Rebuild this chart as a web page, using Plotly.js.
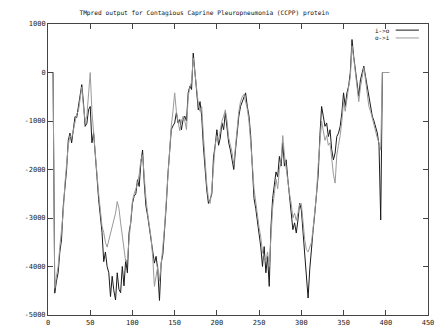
<!DOCTYPE html>
<html><head><meta charset="utf-8">
<script src="https://cdn.plot.ly/plotly-3.0.1.min.js"></script>
<style>html,body{margin:0;padding:0;background:#fff}#chart{width:442px;height:333px}</style>
</head><body><div id="chart"></div>
<script>
// residue positions
const positions = [
  0,6,7,8,10,12,14,16,18,20,
  22,24,26,28,30,32,34,36,38,40,
  42,44,46,48,50,52,54,56,58,60,
  62,64,66,68,70,72,74,76,78,80,
  82,84,86,88,90,92,94,96,98,100,
  102,104,106,108,110,112,114,116,118,120,
  122,124,126,128,130,132,134,136,138,140,
  142,144,146,148,150,152,154,156,158,160,
  162,164,166,168,170,172,174,176,178,180,
  182,184,186,188,190,192,194,196,198,200,
  202,204,206,208,210,212,214,216,218,220,
  222,224,226,228,230,232,234,236,238,240,
  242,244,246,248,250,252,254,256,258,260,
  262,264,266,268,270,272,274,276,278,280,
  282,284,286,288,290,292,294,296,298,300,
  302,304,306,308,310,312,314,316,318,320,
  322,324,326,328,330,332,334,336,338,340,
  342,344,346,348,350,352,354,356,358,360,
  362,364,366,368,370,372,374,376,378,380,
  382,384,386,388,390,392,394,396,404
];
// i->o score
const scoreIO = [
  0,0,-2300,-4550,-4300,-4130,-3700,-3450,-2770,-2450,
  -2000,-1400,-1250,-1450,-1110,-910,-930,-700,-420,-250,
  -630,-1110,-1050,-770,-700,-1450,-1240,-1800,-2150,-2620,
  -2970,-3300,-3900,-3700,-4000,-4130,-4620,-4200,-4500,-4690,
  -4130,-4470,-4540,-4000,-4400,-3860,-4130,-3300,-3100,-2700,
  -2550,-2500,-2210,-2350,-1860,-1600,-2280,-2760,-2950,-3200,
  -3450,-3700,-3930,-3790,-4070,-4700,-3930,-3750,-3300,-2750,
  -2100,-1600,-1180,-1100,-1040,-830,-1040,-970,-1180,-970,
  -900,-1000,-420,-280,-350,400,0,-400,-770,-600,
  -900,-1520,-2000,-2420,-2700,-2620,-2500,-1750,-1500,-1180,
  -1500,-1350,-1040,-1180,-830,-1110,-1450,-1600,-1800,-2000,
  -1600,-1150,-900,-700,-600,-490,-420,-700,-900,-1300,
  -2000,-2600,-2800,-3050,-3300,-3600,-4000,-3590,-4130,-3790,
  -4410,-3200,-2600,-2350,-2050,-2150,-1730,-1930,-1450,-1930,
  -1800,-2200,-2550,-2850,-3240,-3100,-3310,-3040,-2700,-2830,
  -3300,-3800,-4150,-4650,-4050,-3590,-3240,-2900,-2450,-2100,
  -1300,-700,-900,-1110,-1040,-1320,-1180,-1590,-1800,-1660,
  -1320,-1250,-1110,-830,-420,-700,-420,-280,0,680,
  330,60,-210,-490,-150,-10,130,-80,-300,-500,
  -700,-900,-1000,-1110,-1250,-1500,-3040,0,0
];
// o->i score
const scoreOI = [
  0,0,-2300,-4450,-4200,-4000,-3600,-3300,-2900,-2300,
  -1900,-1500,-1300,-1350,-1200,-1000,-850,-800,-500,-300,
  -700,-1000,-900,-500,0,-800,-1300,-1700,-2100,-2500,
  -2800,-3170,-3300,-3500,-3600,-3450,-3300,-3200,-3050,-2900,
  -2660,-2800,-3100,-3400,-3700,-3900,-3860,-3400,-3000,-2650,
  -2500,-2400,-2300,-2100,-1800,-1700,-2200,-2600,-2900,-3150,
  -3400,-3800,-4410,-4200,-4000,-4300,-4000,-3600,-3200,-2700,
  -2000,-1500,-1100,-800,-420,-800,-1000,-1200,-1000,-900,
  -1000,-1180,-500,-300,-200,300,0,-300,-650,-800,
  -700,-1300,-1900,-2300,-2600,-2700,-2400,-1900,-1500,-1300,
  -1400,-1200,-1000,-900,-770,-1000,-1350,-1500,-1650,-1900,
  -1500,-1100,-800,-600,-500,-450,-600,-750,-1000,-1400,
  -1900,-2400,-2700,-2900,-3200,-3400,-3700,-3800,-3900,-3700,
  -4000,-3400,-2800,-2500,-2200,-2400,-2000,-1800,-1300,-1700,
  -2000,-2300,-2500,-2700,-3000,-2900,-3050,-2900,-2720,-2700,
  -3100,-3450,-3650,-3700,-3600,-3500,-3200,-2900,-2500,-1900,
  -1450,-1000,-1200,-1400,-1300,-1500,-1450,-1800,-2100,-2280,
  -1700,-1500,-1300,-1000,-600,-800,-500,-300,-100,550,
  300,0,-300,-600,-300,-100,100,-150,-400,-700,
  -800,-950,-1100,-1200,-1350,-1450,-1600,0,0
];
const xTicks = [0,50,100,150,200,250,300,350,400,450];
const yTicks = [-5000,-4000,-3000,-2000,-1000,0,1000];
const yTickText = ["-5000","-4000","-3000","-2000","-1000","0","1000"];
const seriesNames = ["i->o","o->i"];
const titleText = "TMpred output for Contagious Caprine Pleuropneumonia (CCPP) protein";

const mono = "DejaVu Sans Mono";
const traces = [
  {x: positions, y: scoreIO, name: seriesNames[0], type: "scatter", mode: "lines",
   line: {color: "#1a1a1a", width: 1}},
  {x: positions, y: scoreOI, name: seriesNames[1], type: "scatter", mode: "lines",
   line: {color: "#9a9a9a", width: 1}}
];
const axisCommon = {showline: true, linecolor: "#444", linewidth: 1, mirror: "ticks",
  ticks: "inside", ticklen: 5, tickcolor: "#444", showgrid: false, zeroline: false,
  tickfont: {family: mono, size: 7, color: "#222"}, fixedrange: true};
const layout = {
  width: 442, height: 333,
  margin: {l: 48, r: 14, t: 24, b: 18},
  paper_bgcolor: "#fff", plot_bgcolor: "#fff",
  showlegend: false,
  title: {text: titleText, font: {family: mono, size: 6.2, color: "#111"},
          x: 0.462, xanchor: "center", y: 0.962, yanchor: "middle"},
  xaxis: Object.assign({}, axisCommon, {range: [0, 450], tickvals: xTicks, ticklabelstandoff: 1}),
  yaxis: Object.assign({}, axisCommon, {range: [-5000, 1000], tickvals: yTicks, ticktext: yTickText}),
  annotations: [
    {xref: "paper", yref: "paper", x: 0.905, y: 0.979, xanchor: "right", yanchor: "middle",
     text: seriesNames[0], showarrow: false, font: {family: mono, size: 6, color: "#111"}},
    {xref: "paper", yref: "paper", x: 0.905, y: 0.952, xanchor: "right", yanchor: "middle",
     text: seriesNames[1], showarrow: false, font: {family: mono, size: 6, color: "#111"}}
  ],
  shapes: [
    {type: "line", xref: "paper", yref: "paper", x0: 0.915, x1: 0.976, y0: 0.979, y1: 0.979,
     line: {color: "#1a1a1a", width: 1}},
    {type: "line", xref: "paper", yref: "paper", x0: 0.915, x1: 0.976, y0: 0.952, y1: 0.952,
     line: {color: "#9a9a9a", width: 1}}
  ]
};
Plotly.newPlot("chart", traces, layout, {displayModeBar: false, staticPlot: true});
</script></body></html>
